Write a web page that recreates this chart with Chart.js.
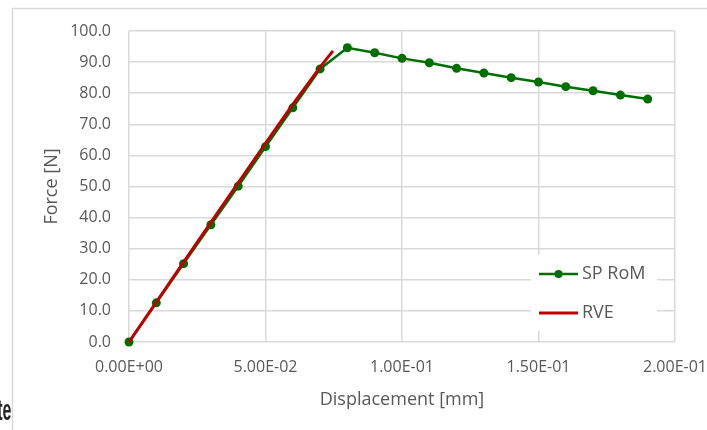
<!DOCTYPE html>
<html>
<head>
<meta charset="utf-8">
<script src="https://cdn.jsdelivr.net/npm/chart.js@4.4.1/dist/chart.umd.min.js"></script>
<style>
    html, body { margin: 0; padding: 0; background: #fff; }
</style>
</head>
<body>
<canvas id="forceChart" width="707" height="430"></canvas>
<script>
// --- Data ---
const displacement = [0, 0.01, 0.02, 0.03, 0.04, 0.05, 0.06, 0.07, 0.08, 0.09,
                      0.10, 0.11, 0.12, 0.13, 0.14, 0.15, 0.16, 0.17, 0.18, 0.19];
const spRomForce = [0, 12.6, 25.2, 37.7, 50.1, 62.8, 75.3, 87.8, 94.6, 93.0,
                    91.2, 89.8, 88.0, 86.5, 85.0, 83.6, 82.1, 80.8, 79.4, 78.1];
const rveDisplacement = [0, 0.01, 0.02, 0.03, 0.04, 0.05, 0.06, 0.07, 0.0747];
const rveForce = [0, 12.8, 25.7, 38.5, 51.2, 63.9, 76.4, 88.4, 93.6];

const xTicks = [0, 0.05, 0.10, 0.15, 0.20];
const xTickLabels = ['0.00E+00', '5.00E-02', '1.00E-01', '1.50E-01', '2.00E-01'];
const yTicks = [0, 10, 20, 30, 40, 50, 60, 70, 80, 90, 100];
const yTickLabels = ['0.0', '10.0', '20.0', '30.0', '40.0', '50.0', '60.0', '70.0', '80.0', '90.0', '100.0'];

// Colors
const greenColor = '#006e00';
const redColor = '#c00000';
const gridColor = '#d9d9d9';
const labelColor = '#595959';
const fontFamily = "'Open Sans', 'Noto Sans', sans-serif";

// Frame, legend box and the cut-off text on the left
const decorPlugin = {
    id: 'decor',
    beforeDraw(chart) {
        const ctx = chart.ctx;
        ctx.save();
        ctx.fillStyle = '#fff';
        ctx.fillRect(0, 0, chart.width, chart.height);
        ctx.strokeStyle = gridColor;
        ctx.lineWidth = 1.5;
        ctx.beginPath();
        ctx.moveTo(12.5, chart.height);
        ctx.lineTo(12.5, 8.5);
        ctx.lineTo(chart.width, 8.5);
        ctx.stroke();
        // clipped fragment of neighbouring text
        ctx.beginPath();
        ctx.rect(0, 0, 11.5, chart.height);
        ctx.clip();
        ctx.fillStyle = '#262626';
        ctx.font = "bold 16px 'Liberation Sans Narrow', 'Liberation Sans', sans-serif";
        ctx.textAlign = 'right';
        ctx.textBaseline = 'alphabetic';
        ctx.translate(11.5, 420);
        ctx.scale(1, 1.8);
        ctx.fillText('te', 0, 0);
        ctx.restore();
    },
    afterDraw(chart) {
        const ctx = chart.ctx;
        ctx.save();
        ctx.fillStyle = '#fff';
        ctx.fillRect(531, 255, 126, 76);
        const entries = [
            { label: 'SP RoM', color: greenColor, width: 2.5, marker: true, y: 274 },
            { label: 'RVE', color: redColor, width: 3, marker: false, y: 313 }
        ];
        entries.forEach(function(e) {
            ctx.strokeStyle = e.color;
            ctx.lineWidth = e.width;
            ctx.beginPath();
            ctx.moveTo(539, e.y);
            ctx.lineTo(578, e.y);
            ctx.stroke();
            if (e.marker) {
                ctx.fillStyle = e.color;
                ctx.beginPath();
                ctx.arc(558.5, e.y, 4, 0, Math.PI * 2);
                ctx.fill();
            }
            ctx.fillStyle = labelColor;
            ctx.font = '18px ' + fontFamily;
            ctx.textAlign = 'left';
            ctx.textBaseline = 'middle';
            ctx.fillText(e.label, 582, e.y);
        });
        ctx.restore();
    }
};

const ctx = document.getElementById('forceChart').getContext('2d');
new Chart(ctx, {
    type: 'scatter',
    data: {
        datasets: [{
            label: 'SP RoM',
            data: displacement.map(function(x, i) { return { x: x, y: spRomForce[i] }; }),
            showLine: true,
            borderColor: greenColor,
            backgroundColor: greenColor,
            borderWidth: 2.5,
            pointRadius: 4.5,
            pointHoverRadius: 4.5,
            pointBorderWidth: 0,
            clip: false,
            order: 1
        },
        {
            label: 'RVE',
            data: rveDisplacement.map(function(x, i) { return { x: x, y: rveForce[i] }; }),
            showLine: true,
            borderColor: redColor,
            backgroundColor: redColor,
            borderWidth: 3,
            pointRadius: 0,
            clip: false,
            order: 0
        }]
    },
    options: {
        responsive: false,
        animation: false,
        layout: { padding: { top: 31, right: 32, bottom: 0, left: 0 } },
        scales: {
            x: {
                type: 'linear',
                min: 0,
                max: 0.2,
                afterBuildTicks: function(scale) {
                    scale.ticks = xTicks.map(function(v) { return { value: v }; });
                },
                afterFit: function(scale) {
                    scale.height = 88;
                    scale.paddingLeft = 0;
                    scale.paddingRight = 0;
                },
                grid: { color: gridColor, lineWidth: 1.5, drawTicks: false },
                border: { display: false },
                ticks: {
                    padding: 16,
                    maxRotation: 0,
                    autoSkip: false,
                    color: labelColor,
                    font: { family: fontFamily, size: 16 },
                    callback: function(value, index) { return xTickLabels[index]; }
                },
                title: {
                    display: true,
                    text: 'Displacement [mm]',
                    color: labelColor,
                    font: { family: fontFamily, size: 18 },
                    padding: { top: 0, bottom: 19 }
                }
            },
            y: {
                min: 0,
                max: 100,
                afterBuildTicks: function(scale) {
                    scale.ticks = yTicks.map(function(v) { return { value: v }; });
                },
                afterFit: function(scale) {
                    scale.width = 129;
                    scale.paddingTop = 0;
                    scale.paddingBottom = 0;
                },
                grid: { color: gridColor, lineWidth: 1.5, drawTicks: false },
                border: { display: false },
                ticks: {
                    padding: 18,
                    color: labelColor,
                    font: { family: fontFamily, size: 16 },
                    callback: function(value, index) { return yTickLabels[index]; }
                },
                title: {
                    display: true,
                    text: 'Force [N]',
                    color: labelColor,
                    font: { family: fontFamily, size: 18 },
                    padding: { top: 41, bottom: 0 }
                }
            }
        },
        plugins: {
            legend: { display: false },
            tooltip: { enabled: false }
        }
    },
    plugins: [decorPlugin]
});
</script>
</body>
</html>
